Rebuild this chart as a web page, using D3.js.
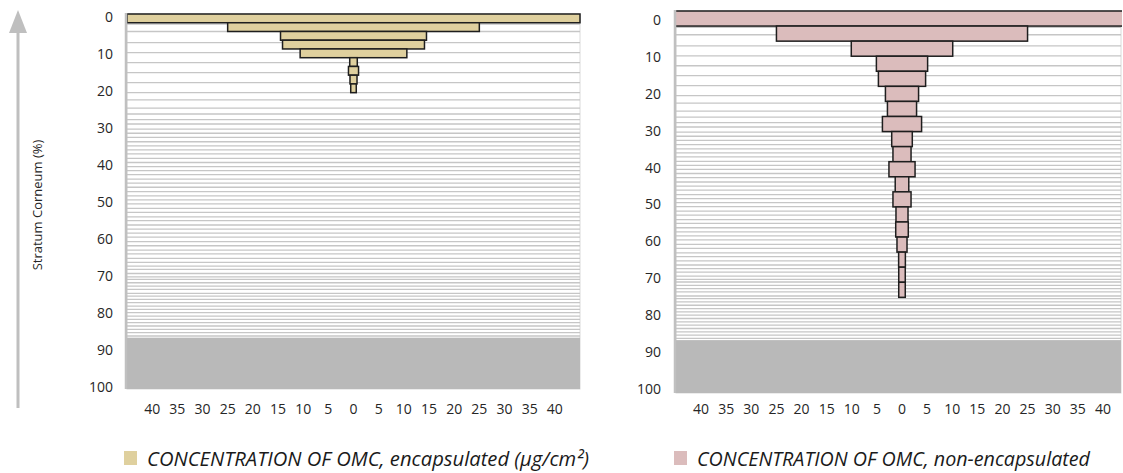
<!DOCTYPE html>
<html lang="en">
<head>
  <meta charset="UTF-8">
  <title>OMC penetration in stratum corneum</title>
  <script src="https://d3js.org/d3.v7.min.js"></script>
  <style>
    body { margin: 0; background: #fff; }
    svg { display: block; }
    .tick-label { font-family: "Open Sans", sans-serif; font-size: 14px; fill: #262626; }
    .legend-text { font-family: "Open Sans", sans-serif; font-style: italic; font-size: 20px; fill: #1a1a1a; }
  </style>
</head>
<body>
  <script>
    // depth labels (% of stratum corneum) and concentration ticks (both sides of 0)
    const depthTicks = [0, 10, 20, 30, 40, 50, 60, 70, 80, 90, 100];
    const concTicks = [-40, -35, -30, -25, -20, -15, -10, -5, 0, 5, 10, 15, 20, 25, 30, 35, 40];

    // OMC concentration per tape strip (µg/cm², half-width of each bar)
    const encapsulated = [45, 25, 14.5, 14.1, 10.6, 0.75, 1.0, 0.7, 0.55];
    const nonEncapsulated = [46, 25, 10.1, 5.1, 4.7, 3.3, 2.9, 3.9, 2.05, 1.8, 2.6, 1.35, 1.8, 1.2, 1.25, 1.0, 0.67, 0.65, 0.65];

    // tape strip boundaries (% depth) drawn as the grey lines
    const stripLines = [2.0, 4.0, 7.0, 9.7, 12.4, 15.1, 17.8, 20.5, 22.5, 24.7, 26.3, 27.8, 29.0, 30.4,
      31.5, 32.6, 33.8, 34.9, 36.0, 37.1, 38.3, 39.4, 40.5, 41.6, 42.7, 43.9, 45.0, 46.1, 47.3, 48.4,
      49.5, 50.6, 51.8, 52.9, 54.1, 55.1, 56.3, 57.4, 58.5, 59.6, 60.8, 61.9, 63.1, 64.1, 65.3, 66.4,
      67.4, 68.3, 69.4, 70.3, 71.0, 71.9, 72.8, 73.7, 74.8, 75.5, 76.4, 77.3, 78.2, 79.1, 80.0, 80.9,
      81.8, 82.7, 83.6, 84.5, 85.4, 86.3];
    // remaining stratum corneum (not stripped)
    const remainingFrom = 86.75;

    const legendLabels = ["CONCENTRATION OF OMC, encapsulated (µg/cm²)", "CONCENTRATION OF OMC, non-encapsulated"];

    const width = 1123, height = 473;
    const svg = d3.select("body").append("svg")
      .attr("width", width)
      .attr("height", height);

    const panels = [
      { id: "enc", values: encapsulated, fill: "#dfd09e",
        left: 127, right: 580, top: 14, bottom: 389, labelTop: 16.7, labelBottom: 386.7,
        xRange: [127, 580], rowH: 8.74, labelX: 113,
        legend: legendLabels[0], legendX: 124, legendW: 442 },
      { id: "non", values: nonEncapsulated, fill: "#dbbcbc",
        left: 676, right: 1121, top: 11, bottom: 393, labelTop: 20, labelBottom: 389,
        xRange: [676, 1128], rowH: 15.07, labelX: 661,
        legend: legendLabels[1], legendX: 674, legendW: 393 }
    ];

    panels.forEach(p => {
      const g = svg.append("g");
      const x = d3.scaleLinear().domain([-45, 45]).range(p.xRange);
      const y = d3.scaleLinear().domain([0, 100]).range([p.labelTop, p.labelBottom]);
      const rows = d3.scaleBand()
        .domain(d3.range(p.values.length))
        .range([p.top, p.top + p.rowH * p.values.length]);

      g.append("clipPath").attr("id", "clip-" + p.id)
        .append("rect")
        .attr("x", p.left).attr("y", p.top - 1)
        .attr("width", p.right - p.left + 1).attr("height", p.bottom - p.top + 2);

      // frame
      g.append("rect")
        .attr("x", p.left).attr("y", p.top)
        .attr("width", p.right - p.left).attr("height", p.bottom - p.top)
        .attr("fill", "#fff").attr("stroke", "#dadada");

      // strip lines
      g.append("g")
        .selectAll("line")
        .data(stripLines)
        .join("line")
        .attr("x1", p.left).attr("x2", p.right)
        .attr("y1", d => y(d)).attr("y2", d => y(d))
        .attr("stroke", "#c6c6c6").attr("stroke-width", 1.3);

      // remaining stratum corneum
      g.append("rect")
        .attr("x", p.left).attr("y", y(remainingFrom))
        .attr("width", p.right - p.left).attr("height", p.bottom - y(remainingFrom))
        .attr("fill", "#b9b9b9");

      // bars
      g.append("g")
        .attr("clip-path", `url(#clip-${p.id})`)
        .selectAll("rect")
        .data(p.values)
        .join("rect")
        .attr("x", d => x(-d))
        .attr("width", d => x(d) - x(-d))
        .attr("y", (d, i) => rows(i))
        .attr("height", rows.bandwidth())
        .attr("fill", p.fill)
        .attr("stroke", "#1e1e1e")
        .attr("stroke-width", 1.5);

      // left axis line
      g.append("line")
        .attr("x1", p.left - 1).attr("x2", p.left - 1)
        .attr("y1", p.top - 1).attr("y2", p.bottom)
        .attr("stroke", "#c0c0c0").attr("stroke-width", 2.5);

      // depth labels
      g.append("g")
        .selectAll("text")
        .data(depthTicks)
        .join("text")
        .attr("class", "tick-label")
        .attr("x", p.labelX)
        .attr("y", d => y(d))
        .attr("dy", "0.35em")
        .attr("text-anchor", "end")
        .text(d => d);

      // concentration labels
      g.append("g")
        .selectAll("text")
        .data(concTicks)
        .join("text")
        .attr("class", "tick-label")
        .attr("x", d => x(d))
        .attr("y", 409)
        .attr("dy", "0.35em")
        .attr("text-anchor", "middle")
        .text(d => Math.abs(d));

      // legend
      g.append("rect")
        .attr("x", p.legendX).attr("y", 451)
        .attr("width", 13).attr("height", 14)
        .attr("fill", p.fill);
      g.append("text")
        .attr("class", "legend-text")
        .attr("x", p.legendX + 23)
        .attr("y", 465.5)
        .attr("textLength", p.legendW)
        .attr("lengthAdjust", "spacingAndGlyphs")
        .text(p.legend);
    });

    // depth arrow and title on the left
    svg.append("line")
      .attr("x1", 18).attr("x2", 18)
      .attr("y1", 30).attr("y2", 408)
      .attr("stroke", "#bfbfbf").attr("stroke-width", 3);
    svg.append("path")
      .attr("d", "M9,33 L27,33 L18,10 Z")
      .attr("fill", "#bfbfbf");
    svg.append("text")
      .attr("transform", "translate(42,205) rotate(-90)")
      .attr("text-anchor", "middle")
      .attr("font-family", "Open Sans, sans-serif")
      .attr("font-size", 13)
      .attr("fill", "#262626")
      .text("Stratum Corneum (%)");
  </script>
</body>
</html>
